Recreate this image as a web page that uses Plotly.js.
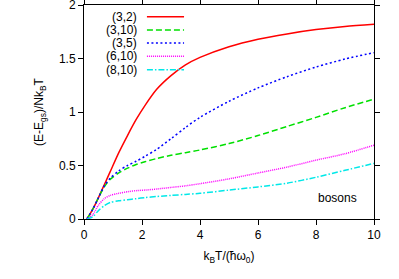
<!DOCTYPE html>
<html>
<head>
<meta charset="utf-8">
<script src="https://cdn.plot.ly/plotly-3.0.1.min.js"></script>
<style>html,body{margin:0;padding:0;background:#fff;}#chart{width:399px;height:279px;}</style>
</head>
<body>
<div id="chart"></div>
<script>
const xs = [0.1, 0.3, 0.5, 0.7, 0.9, 1.2, 1.5, 1.8, 2.1, 2.5, 3.0, 3.5, 4.0, 5, 6, 7, 8, 9, 10];
const names = ["(3,2)", "(3,10)", "(3,5)", "(6,10)", "(8,10)"];
const y32  = [0, 0.09, 0.20, 0.32, 0.44, 0.62, 0.78, 0.93, 1.06, 1.21, 1.34, 1.44, 1.51, 1.61, 1.68, 1.73, 1.77, 1.80, 1.82];
const y310 = [0, 0.09, 0.20, 0.30, 0.37, 0.43, 0.475, 0.51, 0.535, 0.565, 0.595, 0.62, 0.645, 0.705, 0.78, 0.865, 0.95, 1.04, 1.12];
const y35  = [0, 0.09, 0.20, 0.31, 0.38, 0.45, 0.50, 0.54, 0.585, 0.65, 0.75, 0.855, 0.95, 1.10, 1.225, 1.33, 1.42, 1.495, 1.555];
const y610 = [0, 0.04, 0.13, 0.19, 0.22, 0.24, 0.255, 0.265, 0.27, 0.28, 0.295, 0.31, 0.33, 0.375, 0.43, 0.485, 0.55, 0.61, 0.69];
const y810 = [0, 0.02, 0.08, 0.125, 0.155, 0.17, 0.18, 0.19, 0.20, 0.21, 0.22, 0.23, 0.24, 0.27, 0.30, 0.335, 0.39, 0.455, 0.52];
const xTicks = [0, 2, 4, 6, 8, 10];
const yTicks = [0, 0.5, 1, 1.5, 2];
const note = "bosons";

const series = [y32, y310, y35, y610, y810];
const colors = ["#ff0000", "#00e000", "#0000ff", "#ff00ff", "#00e8e8"];
const dashes = ["solid", "6px,3px", "2px,2.5px", "1px,1px", "6px,2px,1.5px,2px"];

const traces = series.map((ys, i) => ({
  x: xs, y: ys, name: names[i], type: "scatter", mode: "lines",
  line: {color: colors[i], width: 1.5, dash: dashes[i], shape: "spline", smoothing: 0.8},
  showlegend: false, hoverinfo: "skip", cliponaxis: false
}));

const F = "Liberation Sans, Arial, sans-serif";
const legY = [0.945, 0.883, 0.822, 0.760, 0.698];
const annotations = names.map((n, i) => ({
  xref: "paper", yref: "paper", x: 0.19, y: legY[i], xanchor: "right", yanchor: "middle",
  text: n, showarrow: false, font: {family: F, size: 12, color: "#000"}
}));
annotations.push({xref: "x", yref: "y", x: 8.73, y: 0.2, text: note, showarrow: false,
  font: {family: F, size: 12, color: "#000"}});
const shapes = names.map((n, i) => ({
  type: "line", xref: "paper", yref: "paper", x0: 0.217, x1: 0.345, y0: legY[i], y1: legY[i],
  line: {color: colors[i], width: 1.5, dash: dashes[i]}
}));

const axisBase = {
  showline: true, linecolor: "#000", linewidth: 1, mirror: "ticks",
  ticks: "outside", ticklen: 5, tickwidth: 1, tickcolor: "#000",
  showgrid: false, zeroline: false, automargin: false, ticklabeloverflow: "allow",
  tickfont: {family: F, size: 12, color: "#000"}
};

const layout = {
  width: 399, height: 279,
  margin: {l: 84, r: 25, t: 5, b: 60},
  paper_bgcolor: "#fff", plot_bgcolor: "#fff",
  xaxis: Object.assign({}, axisBase, {
    range: [0, 10], tickvals: xTicks, ticktext: xTicks.map(String),
    title: {text: "k<sub>B</sub>T/(ħω<sub>0</sub>)", font: {family: F, size: 12, color: "#000"}, standoff: 10}
  }),
  yaxis: Object.assign({}, axisBase, {
    range: [0, 2], tickvals: yTicks, ticktext: yTicks.map(String),
    title: {text: "(E-E<sub>gs</sub>)/Nk<sub>B</sub>T", font: {family: F, size: 12, color: "#000"}, standoff: 12}
  }),
  annotations: annotations,
  shapes: shapes,
  showlegend: false
};

Plotly.newPlot("chart", traces, layout, {staticPlot: true, displayModeBar: false});
</script>
</body>
</html>
